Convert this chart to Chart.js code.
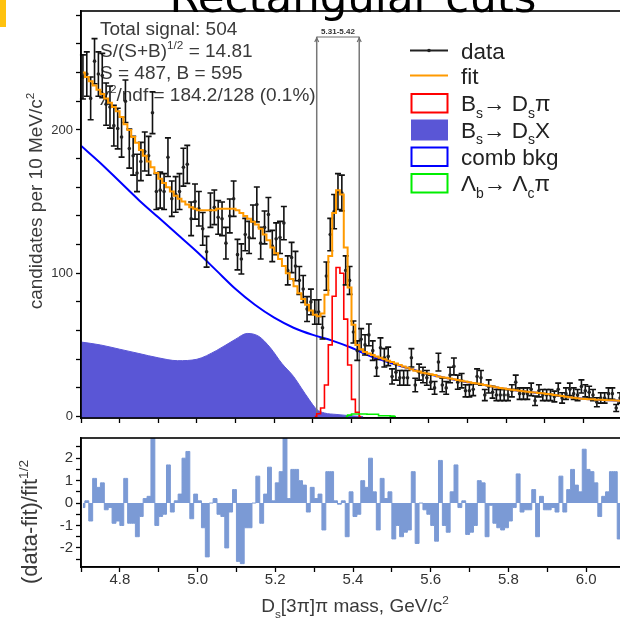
<!DOCTYPE html>
<html>
<head>
<meta charset="utf-8">
<script src="https://cdn.jsdelivr.net/npm/chart.js@4.4.1/dist/chart.umd.min.js"></script>
<style>
html, body { margin: 0; padding: 0; background: #fff; overflow: hidden; }
#wrap { position: relative; width: 620px; height: 618px; overflow: hidden; background: #fff; }
#wrap canvas { position: absolute; left: 0; }
#top { top: 0; }
#bottom { top: 432px; }
</style>
</head>
<body>
<div id="wrap">
<canvas id="top" width="626" height="432"></canvas>
<canvas id="bottom" width="626" height="186"></canvas>
</div>
<script>
// 10 MeV bins from 4.70 to 6.10 GeV
const massBins = [];
for (let i = 0; i < 140; i++) massBins.push(Math.round((4.705 + i * 0.01) * 1000) / 1000);

const dataCounts = [
    237, 239, 222, 248, 239, 238, 218, 216, 203, 201,
    195, 220, 187, 182, 170, 178, 185, 182, 212, 157,
    158, 157, 181, 152, 155, 157, 174, 176, 138, 150,
    145, 131, 115, 144, 146, 139, 138, 121, 140, 152,
    113, 110, 127, 125, 136, 148, 121, 132, 141, 119,
    124, 125, 135, 102, 111, 105, 95, 89, 75, 80,
    73, 73, 62, 98, 127, 143, 157, 156, 102, 95,
    59, 46, 54, 50, 57, 46, 34, 48, 41, 42,
    28, 31, 27, 27, 27, 41, 22, 31, 29, 27,
    24, 20, 38, 22, 20, 29, 35, 24, 25, 18,
    18, 19, 28, 27, 15, 21, 17, 15, 15, 15,
    15, 18, 24, 16, 16, 16, 19, 11, 18, 15,
    15, 15, 14, 19, 13, 16, 19, 16, 15, 21,
    18, 17, 15, 10, 13, 13, 16, 16, 6, 13
];

const fitValues = [
    240, 237, 234, 231, 228, 225, 222, 219, 216, 213,
    209, 204, 200, 195, 191, 186, 182, 178, 174, 170,
    166, 163, 160, 157, 154, 152, 150, 148, 146, 145,
    144, 144, 144, 144, 144, 145, 145, 145, 145, 145,
    144, 142, 140, 138, 136, 134, 131, 127, 123, 118,
    114, 110, 105, 100, 96, 91, 86, 82, 78, 74,
    71, 70, 72, 85, 112, 142, 158, 155, 118, 90,
    64, 50, 47, 45, 44, 43, 42, 41, 40, 39,
    38, 37, 36, 35, 34, 33, 32, 31.5, 30.5, 30,
    29.5, 29, 28, 27.5, 27, 26.5, 26, 25.5, 25, 24.5,
    24, 23.5, 23, 22.5, 22, 21.5, 21, 20.5, 20, 19.5,
    19, 18.7, 18.4, 18, 17.7, 17.4, 17, 16.8, 16.5, 16.2,
    15.8, 15.5, 15.1, 14.7, 14.3, 13.9, 13.5, 13.1, 12.7, 12.5,
    12.3, 12.1, 12, 11.8, 11.7, 11.5, 11.4, 11.3, 11.2, 11.1
];

const residuals = [
    -0.2, 0.1, -0.8, 1.1, 0.7, 0.9, -0.3, -0.2, -0.9, -0.8,
    -1.0, 1.1, -0.9, -0.9, -1.5, -0.6, 0.2, 0.3, 2.9, -1.0,
    -0.6, -0.5, 1.7, -0.4, 0.1, 0.4, 2.0, 2.3, -0.7, 0.4,
    0.1, -1.1, -2.4, 0.0, 0.2, -0.5, -0.6, -2.0, -0.4, 0.6,
    -2.6, -2.7, -1.1, -1.1, 0.0, 1.2, -0.9, 0.4, 1.6, 0.1,
    0.9, 1.4, 2.9, 0.2, 1.5, 1.5, 1.0, 0.8, -0.4, 0.7,
    0.2, 0.4, -1.2, 1.4, 1.4, 0.1, -0.05, 0.1, -1.5, 0.5,
    -0.6, -0.5, 1.0, 0.7, 2.0, 0.5, -1.2, 1.1, 0.2, 0.5,
    -1.6, -1.0, -1.5, -1.3, -1.2, 1.4, -1.8, 0.0, -0.3, -0.5,
    -1.0, -1.7, 1.9, -1.0, -1.3, 0.5, 1.7, -0.2, 0.1, -1.4,
    -1.3, -1.0, 1.0, 0.9, -1.5, -0.1, -0.9, -1.1, -1.2, -1.1,
    -0.8, -0.2, 1.3, -0.4, -0.3, -0.3, 0.6, -1.5, 0.3, -0.3,
    -0.3, -0.2, -0.4, 1.2, -0.4, 0.6, 1.5, 0.8, 0.5, 2.4,
    1.5, 1.4, 0.9, -0.6, 0.3, 0.5, 1.4, 1.4, -1.6, 0.5
];

// combinatorial background
const combMass = [4.70, 4.75, 4.80, 4.85, 4.90, 4.95, 5.00, 5.05, 5.10, 5.15,
    5.20, 5.25, 5.30, 5.35, 5.40, 5.45, 5.50, 5.55, 5.60, 5.65,
    5.70, 5.75, 5.80, 5.85, 5.90, 5.95, 6.00, 6.05, 6.10];
const combValues = [189, 177, 164, 151, 139, 127, 115, 102, 89, 78,
    69, 62, 57, 53, 48, 42, 37.5, 33.5, 29.5, 26.7,
    24, 21.7, 19.2, 17.5, 16, 14.1, 12.4, 11.6, 11];

// Bs -> Ds X partially reconstructed
const dsxMass = [4.70, 4.75, 4.80, 4.85, 4.90, 4.95, 5.00, 5.05, 5.10, 5.13,
    5.16, 5.19, 5.22, 5.25, 5.27, 5.29, 5.31, 5.33, 5.36, 5.40, 5.43];
const dsxValues = [52, 50, 47, 44, 41, 39, 40, 46, 54, 58,
    56, 48, 37, 28, 20, 12, 5, 2.5, 1.5, 0.5, 0];

// Bs -> Ds pi signal
const sigMass = [5.305, 5.315, 5.325, 5.335, 5.345, 5.355, 5.365, 5.375, 5.385, 5.395, 5.405, 5.415, 5.425];
const sigValues = [0, 2, 6, 22, 50, 84, 104, 100, 68, 36, 12, 3, 0];

// Lambda_b -> Lambda_c pi
const lbMass = [5.385, 5.395, 5.405, 5.415, 5.425, 5.435, 5.445, 5.455, 5.465, 5.475, 5.485, 5.495, 5.505, 5.515];
const lbValues = [0, 1, 1.8, 1.8, 1.8, 1.8, 1.6, 1.6, 1.6, 0.6, 0.6, 0.6, 0.3, 0];

const cutLow = 5.31;
const cutHigh = 5.42;

const FONT = '"Liberation Sans", Arial, sans-serif';
Chart.defaults.font.family = FONT;

function pts(xs, ys) {
    return xs.map((x, i) => ({ x: x, y: ys[i] }));
}

// segs: [text, mode]; mode 0 normal, 1 superscript, -1 subscript
function drawRich(ctx, segs, x, y, size, align) {
    const fontOf = s => s + 'px ' + FONT;
    let w = 0;
    segs.forEach(([t, m]) => {
        ctx.font = fontOf(m ? size * 0.62 : size);
        w += ctx.measureText(t).width;
    });
    let cx = align === 'center' ? x - w / 2 : x;
    ctx.textAlign = 'left';
    segs.forEach(([t, m]) => {
        const s = m ? size * 0.62 : size;
        ctx.font = fontOf(s);
        const dy = m === 1 ? -size * 0.42 : (m === -1 ? size * 0.3 : 0);
        ctx.fillText(t, cx, y + dy);
        cx += ctx.measureText(t).width;
    });
    return w;
}

const statLines = [
    [['Total signal: 504', 0]],
    [['S/(S+B)', 0], ['1/2', 1], [' = 14.81', 0]],
    [['S = 487, B = 595', 0]],
    [['\u03c7', 0], ['2', 1], ['/ndf = 184.2/128 (0.1%)', 0]]
];

const legendItems = [
    { kind: 'data', segs: [['data', 0]] },
    { kind: 'fit', segs: [['fit', 0]] },
    { kind: 'sig', segs: [['B', 0], ['s', -1], ['\u2192 D', 0], ['s', -1], ['\u03c0', 0]] },
    { kind: 'dsx', segs: [['B', 0], ['s', -1], ['\u2192 D', 0], ['s', -1], ['X', 0]] },
    { kind: 'comb', segs: [['comb bkg', 0]] },
    { kind: 'lb', segs: [['\u039b', 0], ['b', -1], ['\u2192 \u039b', 0], ['c', -1], ['\u03c0', 0]] }
];

const frame = {
    id: 'frame',
    afterDraw(chart) {
        const a = chart.chartArea, ctx = chart.ctx;
        ctx.save();
        ctx.strokeStyle = '#000';
        ctx.lineWidth = 1.6;
        ctx.strokeRect(a.left, a.top, a.right - a.left, a.bottom - a.top);
        ctx.restore();
    }
};

const errorBars = {
    id: 'errorBars',
    beforeDatasetDraw(chart, args) {
        if (chart.data.datasets[args.index].label !== 'data') return;
        const ctx = chart.ctx, xs = chart.scales.x, ys = chart.scales.y;
        ctx.save();
        ctx.strokeStyle = '#111';
        ctx.lineWidth = 1.6;
        dataCounts.forEach((n, i) => {
            const px = xs.getPixelForValue(massBins[i]);
            const e = Math.sqrt(n);
            const y1 = ys.getPixelForValue(n - e);
            const y2 = ys.getPixelForValue(n + e);
            ctx.beginPath();
            ctx.moveTo(px, y1); ctx.lineTo(px, y2);
            ctx.moveTo(px - 3, y1); ctx.lineTo(px + 3, y1);
            ctx.moveTo(px - 3, y2); ctx.lineTo(px + 3, y2);
            ctx.stroke();
        });
        ctx.restore();
    }
};

const decorTop = {
    id: 'decorTop',
    beforeDatasetsDraw(chart) {
        const ctx = chart.ctx;
        ctx.save();
        ctx.fillStyle = '#3a3a3a';
        ctx.textBaseline = 'alphabetic';
        statLines.forEach((segs, i) => drawRich(ctx, segs, 100, 35 + i * 22, 19, 'left'));
        ctx.restore();
    },
    afterDraw(chart) {
        const ctx = chart.ctx, xs = chart.scales.x;
        ctx.save();
        // cropped page title and the yellow tab
        ctx.fillStyle = '#ffc20e';
        ctx.fillRect(0, 0, 6, 27);
        ctx.fillStyle = '#000';
        ctx.font = '48px "DejaVu Sans", sans-serif';
        const tw = ctx.measureText('Rectangular cuts').width;
        const ts = 48 * 367 / tw;
        ctx.font = ts + 'px "DejaVu Sans", sans-serif';
        ctx.textAlign = 'center';
        ctx.fillText('Rectangular cuts', 353, 12);

        // cut window bracket
        const xl = xs.getPixelForValue(cutLow), xh = xs.getPixelForValue(cutHigh);
        ctx.strokeStyle = '#6e6e6e';
        ctx.lineWidth = 1.2;
        ctx.beginPath();
        ctx.moveTo(xl, 37); ctx.lineTo(xh, 37);
        ctx.moveTo(xl - 2, 42); ctx.lineTo(xl, 38); ctx.lineTo(xl + 2, 42);
        ctx.moveTo(xh - 2, 42); ctx.lineTo(xh, 38); ctx.lineTo(xh + 2, 42);
        ctx.stroke();
        ctx.fillStyle = '#333';
        ctx.font = 'bold 8px ' + FONT;
        ctx.fillText(cutLow.toFixed(2) + '-' + cutHigh.toFixed(2), (xl + xh) / 2, 34);

        // legend
        const lx = 410, lw = 38, tx = 461, size = 22.5;
        const rows = [50.5, 75.5, 103, 129.5, 156.5, 183];
        legendItems.forEach((it, i) => {
            const cy = rows[i];
            ctx.lineWidth = 2;
            if (it.kind === 'data') {
                ctx.strokeStyle = '#222';
                ctx.beginPath(); ctx.moveTo(lx, cy); ctx.lineTo(lx + lw, cy); ctx.stroke();
                ctx.fillStyle = '#222';
                ctx.beginPath(); ctx.arc(lx + lw / 2, cy, 1.8, 0, Math.PI * 2); ctx.fill();
            } else if (it.kind === 'fit') {
                ctx.strokeStyle = '#ff9a00';
                ctx.beginPath(); ctx.moveTo(lx, cy); ctx.lineTo(lx + lw, cy); ctx.stroke();
            } else if (it.kind === 'dsx') {
                ctx.fillStyle = '#5a56d6';
                ctx.fillRect(lx + 1, cy - 10, lw - 1, 21);
            } else {
                ctx.strokeStyle = it.kind === 'sig' ? '#ff0000' : (it.kind === 'comb' ? '#0000ff' : '#00ee00');
                ctx.strokeRect(lx + 1.5, cy - 9, lw - 2, 18.5);
            }
            ctx.fillStyle = '#222';
            drawRich(ctx, it.segs, tx, cy + 8, size, 'left');
        });

        // y axis title
        ctx.fillStyle = '#3a3a3a';
        ctx.translate(42, 201);
        ctx.rotate(-Math.PI / 2);
        drawRich(ctx, [['candidates per 10 MeV/c', 0], ['2', 1]], 0, 0, 19, 'center');
        ctx.restore();
    }
};

const decorBottom = {
    id: 'decorBottom',
    afterDraw(chart) {
        const ctx = chart.ctx;
        ctx.save();
        ctx.fillStyle = '#3a3a3a';
        drawRich(ctx, [['D', 0], ['s', -1], ['[3\u03c0]\u03c0 mass, GeV/c', 0], ['2', 1]], 355, 180, 19, 'center');
        ctx.translate(37, 90);
        ctx.rotate(-Math.PI / 2);
        drawRich(ctx, [['(data-fit)/fit', 0], ['1/2', 1]], 0, 0, 22, 'center');
        ctx.restore();
    }
};

function fixBox(width, height) {
    return function (s) {
        if (width !== null) s.width = width;
        if (height !== null) s.height = height;
        s.paddingTop = 0; s.paddingBottom = 0; s.paddingLeft = 0; s.paddingRight = 0;
    };
}

function nearInt(v) {
    return Math.abs(v - Math.round(v)) < 1e-6;
}

const topChart = new Chart(document.getElementById('top'), {
    type: 'line',
    data: {
        datasets: [
            { label: 'fit', data: pts(massBins, fitValues), borderColor: '#ff9a00', borderWidth: 2,
              pointRadius: 0, stepped: 'middle', fill: false, order: 1 },
            { label: 'data', data: pts(massBins, dataCounts), showLine: false, pointRadius: 1.8,
              pointBackgroundColor: '#222', pointBorderWidth: 0, order: 2 },
            { label: 'lb', data: pts(lbMass, lbValues), borderColor: '#00ee00', borderWidth: 1.6,
              pointRadius: 0, stepped: 'middle', fill: false, order: 3 },
            { label: 'sig', data: pts(sigMass, sigValues), borderColor: '#ff0000', borderWidth: 1.6,
              pointRadius: 0, stepped: 'middle', fill: false, order: 4 },
            { label: 'comb', data: pts(combMass, combValues), borderColor: '#0000ff', borderWidth: 2,
              pointRadius: 0, cubicInterpolationMode: 'monotone', fill: false, order: 5 },
            { label: 'dsx', data: pts(dsxMass, dsxValues), borderColor: '#5a56d6', backgroundColor: '#5a56d6',
              borderWidth: 1, pointRadius: 0, cubicInterpolationMode: 'monotone', fill: 'start', order: 7 },
            { label: 'cutLow', data: [{ x: cutLow, y: -1 }, { x: cutLow, y: 265 }], borderColor: '#777',
              borderWidth: 1.5, pointRadius: 0, fill: false, order: 6 },
            { label: 'cutHigh', data: [{ x: cutHigh, y: -1 }, { x: cutHigh, y: 265 }], borderColor: '#777',
              borderWidth: 1.5, pointRadius: 0, fill: false, order: 6 }
        ]
    },
    options: {
        responsive: false,
        animation: false,
        devicePixelRatio: 1,
        events: [],
        layout: { padding: { left: 0, right: 1, top: 11, bottom: 0 } },
        plugins: { legend: { display: false }, tooltip: { enabled: false } },
        scales: {
            x: {
                type: 'linear', min: 4.7, max: 6.1,
                ticks: { stepSize: 0.1, display: false, includeBounds: false },
                grid: { drawOnChartArea: false, tickLength: 5, color: '#000', tickWidth: 1.3 },
                border: { display: true, color: '#000', width: 1.6 },
                afterFit: fixBox(null, 14)
            },
            y: {
                min: -1, max: 283,
                ticks: {
                    stepSize: 20, includeBounds: false, padding: 3, color: '#333', autoSkip: false,
                    font: { size: 13 },
                    callback: v => (Math.round(v) % 100 === 0 ? String(Math.round(v)) : '')
                },
                grid: { drawOnChartArea: false, tickLength: 5, color: '#000', tickWidth: 1.3 },
                border: { display: true, color: '#000', width: 1.6 },
                afterFit: fixBox(81, null)
            }
        }
    },
    plugins: [errorBars, decorTop, frame]
});

const bottomChart = new Chart(document.getElementById('bottom'), {
    type: 'line',
    data: {
        datasets: [
            { label: 'residual', data: pts(massBins, residuals), stepped: 'middle', fill: 'origin',
              backgroundColor: '#7b9ad5', borderColor: '#7b9ad5', borderWidth: 1, pointRadius: 0 }
        ]
    },
    options: {
        responsive: false,
        animation: false,
        devicePixelRatio: 1,
        events: [],
        layout: { padding: { left: 0, right: 1, top: 6, bottom: 0 } },
        plugins: { legend: { display: false }, tooltip: { enabled: false } },
        scales: {
            x: {
                type: 'linear', min: 4.7, max: 6.1,
                ticks: {
                    stepSize: 0.1, includeBounds: false, padding: -1, color: '#333', maxRotation: 0,
                    autoSkip: false, font: { size: 15 },
                    callback: v => {
                        const t = Math.round(v * 10);
                        return t % 2 === 0 ? (t / 10).toFixed(1) : '';
                    }
                },
                grid: { drawOnChartArea: false, tickLength: 5, color: '#000', tickWidth: 1.3 },
                border: { display: true, color: '#000', width: 1.6 },
                afterFit: fixBox(null, 51)
            },
            y: {
                min: -2.85, max: 2.9,
                ticks: {
                    stepSize: 0.5, includeBounds: false, padding: 3, color: '#333', autoSkip: false,
                    font: { size: 15 },
                    callback: v => (nearInt(v) ? String(Math.round(v)) : '')
                },
                grid: { drawOnChartArea: false, tickLength: 5, color: '#000', tickWidth: 1.3 },
                border: { display: true, color: '#000', width: 1.6 },
                afterFit: fixBox(81, null)
            }
        }
    },
    plugins: [decorBottom, frame]
});
</script>
</body>
</html>
